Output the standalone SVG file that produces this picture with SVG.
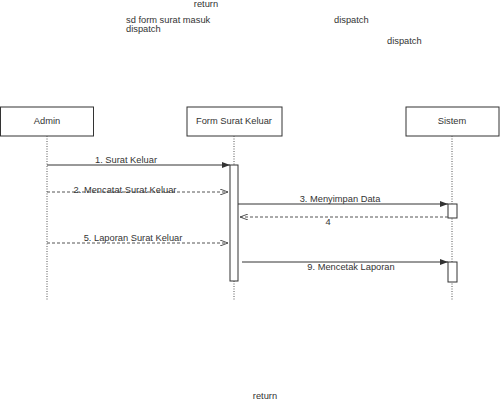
<svg xmlns="http://www.w3.org/2000/svg" width="500" height="400" viewBox="0 0 500 400">
<style>
text{font-family:"Liberation Sans",Arial,sans-serif;font-size:9.3px;fill:#333}
.box{fill:#fff;stroke:#333;stroke-width:1}
.life{stroke:#555;stroke-width:1;stroke-dasharray:1,1.5;fill:none}
.act{fill:#fff;stroke:#333;stroke-width:1}
.msg{stroke:#333;stroke-width:1;fill:none}
.ret{stroke:#555;stroke-width:1;stroke-dasharray:3,2;fill:none}
.c{text-anchor:middle}
</style>
<defs>
<marker id="fill" markerWidth="8" markerHeight="6" refX="8" refY="3" orient="auto" markerUnits="userSpaceOnUse">
<path d="M0,0 L8,3 L0,6 Z" fill="#333"/>
</marker>
<marker id="open" markerWidth="8" markerHeight="6" refX="8" refY="3" orient="auto" markerUnits="userSpaceOnUse">
<path d="M0,0 L8,3 L0,6" fill="none" stroke="#555" stroke-width="1"/>
</marker>
</defs>
<rect width="500" height="400" fill="#fff"/>
<text x="206" y="7" class="c">return</text>
<text x="126" y="23">sd form surat masuk</text>
<text x="126" y="32">dispatch</text>
<text x="334" y="23">dispatch</text>
<text x="387" y="44">dispatch</text>
<text x="265" y="399" class="c">return</text>
<g id="admin">
<rect class="box" x="0.5" y="107" width="93" height="29"/>
<text x="47" y="124" class="c">Admin</text>
<line class="life" x1="47" y1="136" x2="47" y2="300"/>
</g>
<g id="form">
<rect class="box" x="187" y="107" width="95" height="29"/>
<text x="234" y="124" class="c">Form Surat Keluar</text>
<line class="life" x1="234" y1="136" x2="234" y2="300"/>
<rect class="act" x="230" y="165" width="8" height="116"/>
</g>
<g id="sistem">
<rect class="box" x="406" y="107" width="93" height="29"/>
<text x="452" y="124" class="c">Sistem</text>
<line class="life" x1="452" y1="136" x2="452" y2="300"/>
<rect class="act" x="448" y="204" width="9" height="14"/>
<rect class="act" x="448" y="262" width="9" height="20"/>
</g>
<g id="connectors">
<line class="msg" x1="47" y1="165" x2="230" y2="165" marker-end="url(#fill)"/>
<text x="126" y="163" class="c">1. Surat Keluar</text>
<line class="ret" x1="47" y1="192" x2="228" y2="192" marker-end="url(#open)"/>
<text x="125" y="193" class="c">2. Mencatat Surat Keluar</text>
<line class="ret" x1="448" y1="217" x2="240" y2="217" marker-end="url(#open)"/>
<line class="msg" x1="238" y1="204" x2="448" y2="204" marker-end="url(#fill)"/>
<text x="340" y="202" class="c">3. Menyimpan Data</text>
<text x="328" y="225" class="c">4</text>
<line class="ret" x1="47" y1="243" x2="228" y2="243" marker-end="url(#open)"/>
<text x="133" y="241" class="c">5. Laporan Surat Keluar</text>
<line class="msg" x1="242" y1="262" x2="448" y2="262" marker-end="url(#fill)"/>
<text x="351" y="270" class="c">9. Mencetak Laporan</text>
</g>
</svg>
